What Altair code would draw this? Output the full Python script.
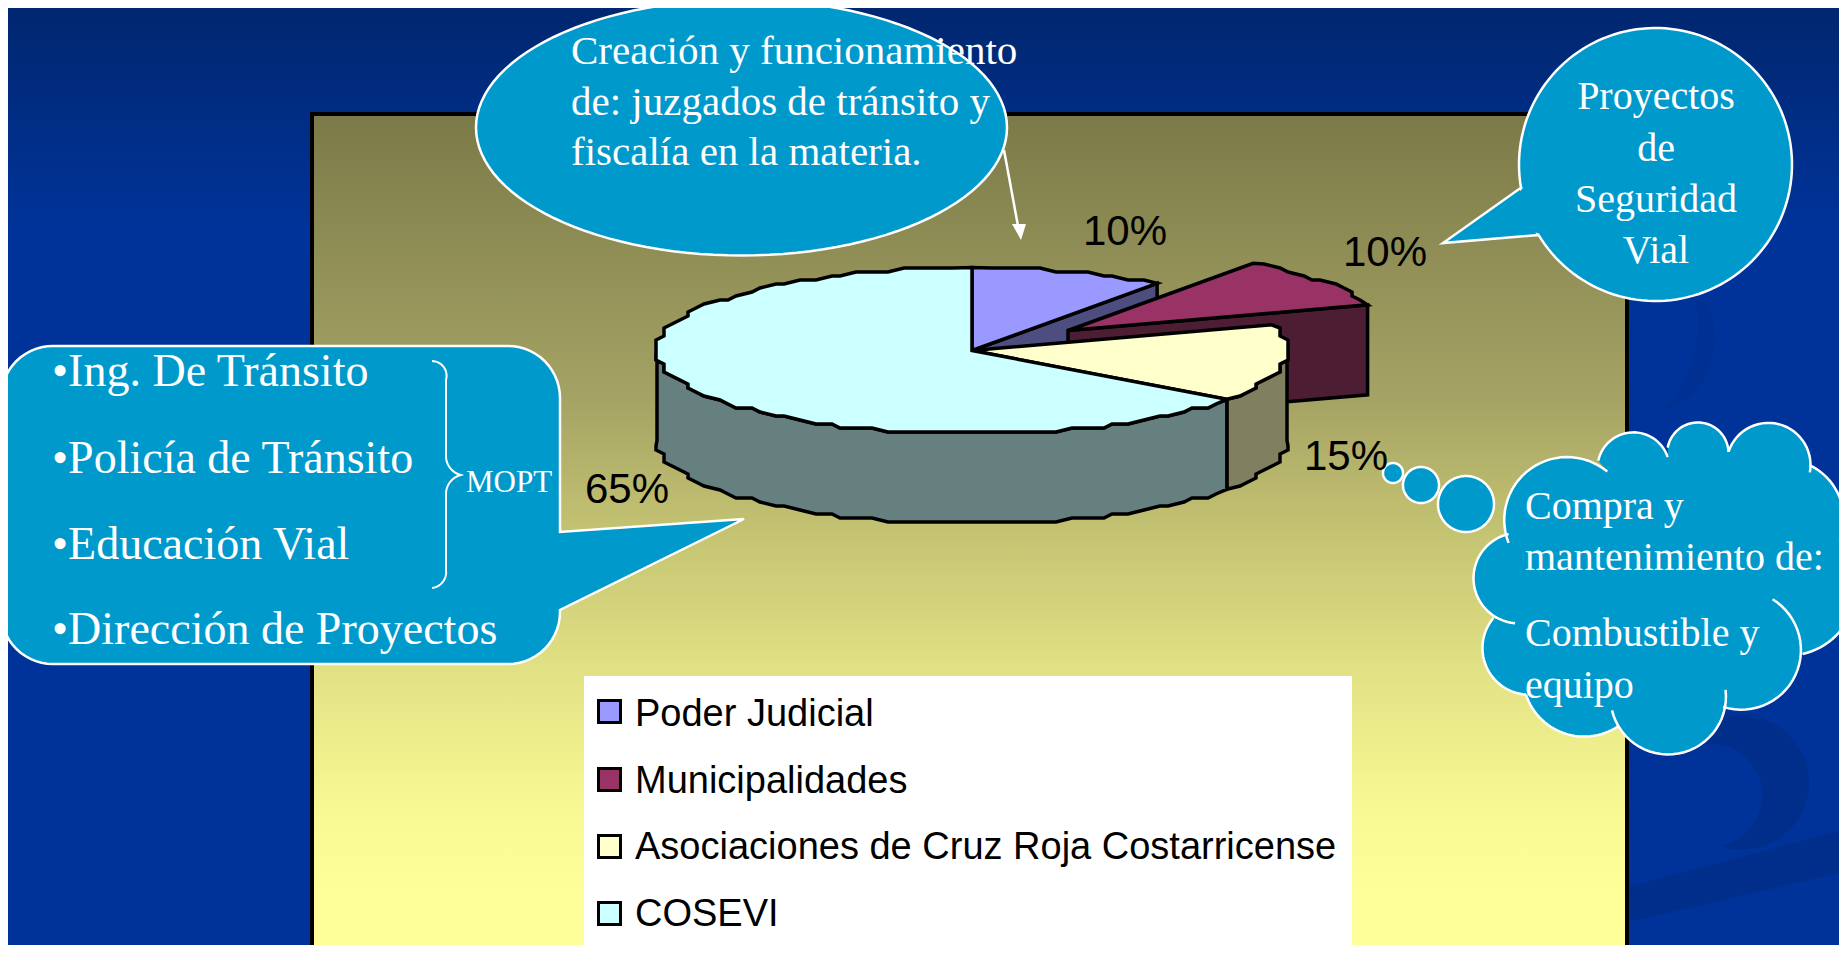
import math
import altair as alt
import pandas as pd

# ---------- data ----------
CATEGORIES = ["Poder Judicial", "Municipalidades", "Asociaciones de Cruz Roja Costarricense", "COSEVI"]
VALUES = [10, 10, 15, 65]
TOP_COLORS = ["#9999FF", "#993366", "#FFFFCC", "#CCFFFF"]
SIDE_COLORS = ["#4D4D80", "#4C1D33", "#808060", "#66807F"]
LABEL_POS = [(1083, 245), (1343, 266), (1304, 470), (585, 503)]
LEGEND_ROWS = [(699, 726), (767, 793), (834, 859), (901, 926)]

ELLIPSE_LINES = ["Creación y funcionamiento", "de: juzgados de tránsito y", "fiscalía en la materia."]
ELLIPSE_BASE = [64, 115, 165]
ROUND_LINES = ["Proyectos", "de", "Seguridad", "Vial"]
ROUND_BASE = [109, 161, 212, 263]
LEFT_LINES = ["•Ing. De Tránsito", "•Policía de Tránsito", "•Educación Vial", "•Dirección de Proyectos"]
LEFT_BASE = [386, 473, 559, 644]
CLOUD_LINES = ["Compra y", "mantenimiento de:", "Combustible y", "equipo"]
CLOUD_BASE = [519, 570, 646, 698]

W, H = 1831, 937
OFF = 8
CALLOUT = "#0099CC"
SERIF = "Liberation Serif"
SANS = "Liberation Sans"

shapes = []


def P(p):
    return [round(p[0] - OFF, 2), round(p[1] - OFF, 2)]


def poly(points, fill, stroke="transparent", sw=0):
    pts = [P(p) for p in points]
    if pts[0] != pts[-1]:
        pts.append(pts[0])
    shapes.append({"type": "Feature", "properties": {"fill": fill, "stroke": stroke, "sw": sw},
                   "geometry": {"type": "Polygon", "coordinates": [pts]}})


def line(points, stroke="white", sw=2.5):
    shapes.append({"type": "Feature", "properties": {"fill": "transparent", "stroke": stroke, "sw": sw},
                   "geometry": {"type": "LineString", "coordinates": [P(p) for p in points]}})


def ell(cx, cy, rx, ry, a0=0.0, a1=360.0, n=120):
    return [(cx + rx * math.sin(math.radians(a0 + (a1 - a0) * i / n)),
             cy - ry * math.cos(math.radians(a0 + (a1 - a0) * i / n))) for i in range(n + 1)]


def arc3(p0, p1, p2, n=30):
    ax, ay = p0
    bx, by = p1
    cx, cy = p2
    d = 2 * (ax * (by - cy) + bx * (cy - ay) + cx * (ay - by))
    ux = ((ax**2 + ay**2) * (by - cy) + (bx**2 + by**2) * (cy - ay) + (cx**2 + cy**2) * (ay - by)) / d
    uy = ((ax**2 + ay**2) * (cx - bx) + (bx**2 + by**2) * (ax - cx) + (cx**2 + cy**2) * (bx - ax)) / d
    r = math.hypot(ax - ux, ay - uy)
    t0 = math.atan2(ay - uy, ax - ux)
    t1 = math.atan2(by - uy, bx - ux)
    t2 = math.atan2(cy - uy, cx - ux)
    def ccw(a, b):
        return (b - a) % (2 * math.pi)
    sweep = ccw(t0, t2)
    if ccw(t0, t1) > sweep:
        sweep = sweep - 2 * math.pi
    return [(ux + r * math.cos(t0 + sweep * i / n), uy + r * math.sin(t0 + sweep * i / n)) for i in range(n + 1)]


# ---------- swooshes in the blue background ----------
DARK = "#002E8A"
poly([(1620, 889), (1847, 829), (1847, 871), (1620, 924)], DARK)
poly(arc3((1700, 730), (1809, 787), (1720, 846)) + arc3((1720, 846), (1762, 800), (1700, 745)), DARK)
poly(arc3((1704, 300), (1715, 342), (1660, 412)) + arc3((1660, 412), (1695, 350), (1695, 300)), "#003192")

# ---------- 3-D pie, every angle comes from VALUES ----------
CX, CY, RX, RY, DEPTH = 972, 350.5, 315, 83, 90
EXPLODE = (96, -20)
angles = [0]
for v in VALUES:
    angles.append(angles[-1] + 360 * v / sum(VALUES))


def rim(a0, a1, dx=0, dy=0, down=0):
    n = max(2, int(abs(a1 - a0) / 3.0))
    out = []
    for (x, y) in ell(CX + dx, CY + dy, RX, RY, a0, a1, n):
        # the source rim is a coarse, bumpy outline
        qy = round(y / 4.0) * 4.0
        qx = round(x / 8.0) * 8.0
        out.append((qx, qy + down))
    s = ell(CX + dx, CY + dy, RX, RY, a0, a0, 1)[0]
    e = ell(CX + dx, CY + dy, RX, RY, a1, a1, 1)[0]
    out[0] = (s[0], s[1] + down)
    out[-1] = (e[0], e[1] + down)
    return out


EDGE = 3.5
a = angles
# Poder Judicial
p = rim(a[0], a[1])
poly([(CX, CY), p[-1], (p[-1][0], p[-1][1] + DEPTH), (CX, CY + DEPTH)], SIDE_COLORS[0], "black", EDGE)
poly([(CX, CY)] + p, TOP_COLORS[0], "black", EDGE)
# Municipalidades (exploded)
p = rim(a[1], a[2], *EXPLODE)
ax_, ay_ = CX + EXPLODE[0], CY + EXPLODE[1]
poly([(ax_, ay_), p[-1], (p[-1][0], p[-1][1] + DEPTH), (ax_, ay_ + DEPTH)], SIDE_COLORS[1], "black", EDGE)
poly([(ax_, ay_)] + p, TOP_COLORS[1], "black", EDGE)
# Walls of Cruz Roja and COSEVI
w0 = rim(90, a[3])
poly(w0 + [(x, y + DEPTH) for x, y in reversed(w0)], SIDE_COLORS[2], "black", EDGE)
w1 = rim(a[3], 270)
poly(w1 + [(x, y + DEPTH) for x, y in reversed(w1)], SIDE_COLORS[3], "black", EDGE)
# Tops
poly([(CX, CY)] + rim(a[2], a[3]), TOP_COLORS[2], "black", EDGE)
poly([(CX, CY)] + rim(a[3], a[4]), TOP_COLORS[3], "black", EDGE)

# ---------- callouts ----------
# top ellipse and its arrow
poly(ell(741.5, 127.5, 265.5, 128), CALLOUT, "white", 2.5)
line([(1004, 150), (1018, 226)], "white", 2.5)
poly([(1012, 224), (1026, 224), (1021, 240)], "white")

# round callout
poly([(1539, 235), (1443, 243), (1522, 187)] + ell(1655.5, 164.5, 136.5, 136.5, 260, 599, 140), CALLOUT, "white", 2.5)

# left callout
R = 52
L, T, Rt, B = 1, 346, 560, 664
left = []
left += ell(L + R, T + R, R, R, 270, 360, 14)
left += ell(Rt - R, T + R, R, R, 0, 90, 14)
left += [(Rt, 532), (744, 519), (Rt, 610)]
left += ell(Rt - R, B - R, R, R, 90, 180, 14)
left += ell(L + R, B - R, R, R, 180, 270, 14)
poly(left, CALLOUT, "white", 2.5)

# brace
brace = (arc3((432, 361), (442, 365), (446, 380), 8) + arc3((446, 455), (450, 468), (461, 475), 8)
         + arc3((461, 475), (450, 482), (446, 495), 8) + arc3((446, 570), (442, 583), (432, 588), 8))
line(brace, "white", 2)


# ---------- cloud ----------
def z(X, Y):
    return (1280 + X / 2.765, 400 + Y / 2.835)


lobes = [
    (z(632, 405), z(700, 190), z(905, 203)),
    (z(880, 172), z(985, 92), z(1072, 162)),
    (z(1072, 135), z(1170, 65), z(1240, 147)),
    (z(1240, 147), z(1345, 65), z(1465, 205)),
    (z(1465, 185), z(1558, 320), z(1548, 400)),
    (z(1548, 400), z(1590, 570), z(1445, 720)),
    (z(1362, 565), z(1440, 720), z(1225, 870)),
    (z(1232, 822), z(1070, 1005), z(918, 880)),
    (z(935, 925), z(820, 953), z(680, 835)),
    (z(680, 835), z(560, 710), z(590, 618)),
    (z(650, 633), z(535, 505), z(632, 380)),
]
arcs = [arc3(*lb) for lb in lobes]
cloud = []
for idx in [0, 1, 2, 3, 4, 5]:
    cloud += arcs[idx]
cloud += [z(1445, 720)] + arcs[6][12:]
for idx in [7, 8, 9, 10]:
    cloud += arcs[idx]
poly(cloud, CALLOUT)
for arc_pts in arcs:
    line(arc_pts, "white", 2.5)

for (cx, cy, r) in [(1393, 473, 10), (1421, 485, 18), (1466, 504, 28)]:
    poly(ell(cx, cy, r, r), CALLOUT, "white", 2.5)

# ---------- legend ----------
poly([(584, 676), (1352, 676), (1352, 949), (584, 949)], "white")
for (top, _), col in zip(LEGEND_ROWS, TOP_COLORS):
    poly([(598.5, top + 1.5), (620.5, top + 1.5), (620.5, top + 23.5), (598.5, top + 23.5)], col, "black", 3)

# ---------- scene ----------
blue = alt.Chart(pd.DataFrame({"a": [0]})).mark_rect(
    fill=alt.Gradient(gradient="linear", x1=0, y1=0, x2=0, y2=1, stops=[
        alt.GradientStop(color="#00276F", offset=0),
        alt.GradientStop(color="#003399", offset=0.23),
        alt.GradientStop(color="#003399", offset=1)])
).encode(x=alt.value(0), x2=alt.value(W), y=alt.value(0), y2=alt.value(H))

panel_x0, panel_x1, panel_y0 = 312 - OFF, 1627 - OFF, 114 - OFF
geo_bg = alt.Chart(alt.Data(values=shapes[:3])).mark_geoshape().encode(
    fill=alt.Fill("properties.fill:N", scale=None),
    stroke=alt.Stroke("properties.stroke:N", scale=None),
    strokeWidth=alt.StrokeWidth("properties.sw:Q", scale=None),
).project(type="identity", scale=1, translate=[0, 0])

PANEL_STOPS = [("#7B7A48", 0), ("#A5A364", 0.34), ("#C6C573", 0.508), ("#E5E587", 0.686),
               ("#FAFA94", 0.84), ("#FFFF99", 0.94), ("#FFFF99", 1)]
panel = alt.Chart(pd.DataFrame({"a": [0]})).mark_rect(
    stroke="black", strokeWidth=4,
    fill=alt.Gradient(gradient="linear", x1=0, y1=0, x2=0, y2=1,
                      stops=[alt.GradientStop(color=c, offset=o) for c, o in PANEL_STOPS])
).encode(x=alt.value(panel_x0), x2=alt.value(panel_x1), y=alt.value(panel_y0), y2=alt.value(H + 8))

geo = alt.Chart(alt.Data(values=shapes[3:])).mark_geoshape().encode(
    fill=alt.Fill("properties.fill:N", scale=None),
    stroke=alt.Stroke("properties.stroke:N", scale=None),
    strokeWidth=alt.StrokeWidth("properties.sw:Q", scale=None),
).project(type="identity", scale=1, translate=[0, 0])


def texts(lines, xs, ys, font, size, color, align="left"):
    df = pd.DataFrame({"t": lines, "x": [x - OFF for x in xs], "y": [y - OFF for y in ys]})
    return alt.Chart(df).mark_text(font=font, fontSize=size, color=color, align=align, baseline="alphabetic").encode(
        x=alt.X("x:Q", scale=None, axis=None), y=alt.Y("y:Q", scale=None, axis=None), text="t:N")


layers = [
    blue, geo_bg, panel, geo,
    texts([f"{v}%" for v in VALUES], [p[0] for p in LABEL_POS], [p[1] for p in LABEL_POS], SANS, 42, "black"),
    texts(ELLIPSE_LINES, [571] * 3, ELLIPSE_BASE, SERIF, 41, "white"),
    texts(ROUND_LINES, [1656] * 4, ROUND_BASE, SERIF, 40, "white", "center"),
    texts(LEFT_LINES, [52] * 4, LEFT_BASE, SERIF, 46, "white"),
    texts(["MOPT"], [466], [492], SERIF, 31, "white"),
    texts(CLOUD_LINES, [1525] * 4, CLOUD_BASE, SERIF, 40, "white"),
    texts(CATEGORIES, [635] * 4, [r[1] for r in LEGEND_ROWS], SANS, 38, "black"),
]

chart = alt.layer(*layers).properties(
    width=W, height=H, padding=0, autosize=alt.AutoSizeParams(type="none"),
    background="#003399",
).configure_view(stroke=None)

chart.save("out.html", embed_options={"renderer": "svg", "actions": False})
